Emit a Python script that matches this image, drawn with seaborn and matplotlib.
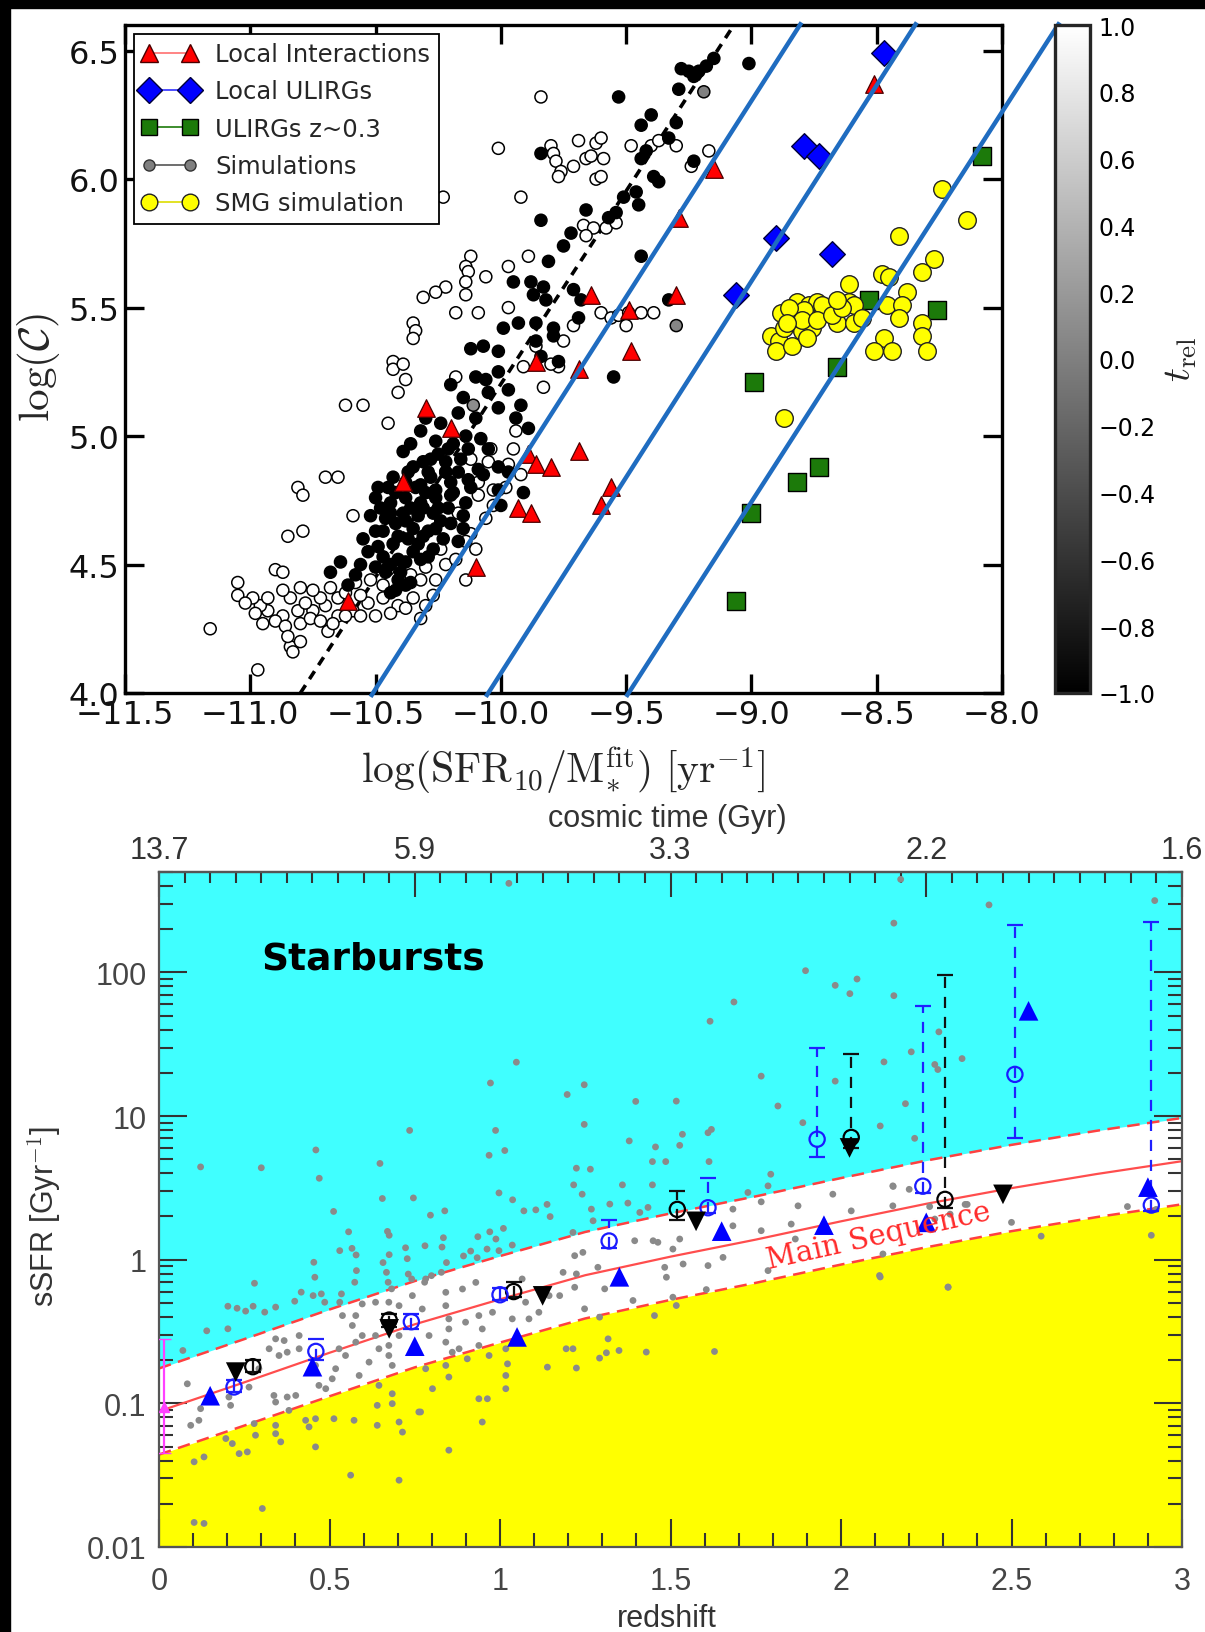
import numpy as np
import pandas as pd
import matplotlib
matplotlib.use("Agg")
import matplotlib.pyplot as plt
import matplotlib.ticker as mticker
from matplotlib.lines import Line2D
from matplotlib.patches import Rectangle
from matplotlib.cm import ScalarMappable
from matplotlib.colors import Normalize
import seaborn as sns

sns.set_theme(style="ticks")
plt.rcParams["font.family"] = ["DejaVu Sans"]
plt.rcParams["mathtext.fontset"] = "cm"
plt.rcParams["axes.unicode_minus"] = True

# ---------------- top panel data: (log sSFR, log C) ----------------
sim_open = [
    (-11.16, 4.25), (-10.97, 4.09), (-11.05, 4.43), (-10.90, 4.48), (-10.87, 4.47), (-10.81, 4.80),
    (-10.79, 4.77), (-10.70, 4.84), (-10.65, 4.84), (-10.59, 4.69), (-10.85, 4.61), (-10.79, 4.63),
    (-10.62, 5.12), (-10.55, 5.12), (-10.84, 4.18), (-10.83, 4.16), (-10.69, 4.24),
    (-10.47, 4.37), (-10.41, 4.34), (-10.35, 4.37), (-10.53, 4.35), (-10.59, 4.32), (-10.65, 4.30),
    (-10.70, 4.34), (-10.75, 4.32), (-10.81, 4.32), (-10.87, 4.30), (-10.93, 4.32), (-10.96, 4.34),
    (-10.99, 4.37), (-10.93, 4.37), (-10.84, 4.37), (-10.78, 4.35), (-10.72, 4.37), (-10.65, 4.37),
    (-10.56, 4.38), (-10.47, 4.42), (-11.05, 4.38), (-11.02, 4.35), (-10.98, 4.31), (-10.95, 4.27),
    (-10.90, 4.28), (-10.86, 4.26), (-10.80, 4.27), (-10.76, 4.29), (-10.72, 4.28), (-10.67, 4.27),
    (-10.62, 4.30), (-10.56, 4.30), (-10.50, 4.30), (-10.44, 4.31), (-10.38, 4.33), (-10.30, 4.34),
    (-10.27, 4.38), (-10.85, 4.22), (-10.80, 4.20), (-10.87, 4.40), (-10.80, 4.41), (-10.75, 4.40),
    (-10.68, 4.41), (-10.62, 4.39), (-10.58, 4.43), (-10.52, 4.44), (-10.45, 4.48), (-10.40, 4.50),
    (-10.36, 4.46), (-10.30, 4.49), (-10.22, 4.50), (-10.18, 4.52), (-10.24, 4.56), (-10.12, 4.62),
    (-10.06, 4.68), (-10.03, 4.73), (-9.98, 4.80), (-9.92, 4.85), (-9.95, 4.95), (-10.05, 4.90),
    (-10.12, 4.91), (-10.22, 4.86), (-10.04, 4.95), (-10.09, 4.82), (-10.03, 4.79), (-10.09, 4.77),
    (-9.97, 4.89), (-9.94, 5.02), (-10.14, 4.59), (-10.10, 4.56), (-10.14, 4.44), (-10.17, 4.70),
    (-10.26, 4.44), (-10.32, 4.44), (-10.32, 4.29), (-10.41, 5.17), (-10.45, 5.05),
    (-9.84, 6.32), (-10.01, 6.12), (-9.92, 5.93), (-10.23, 5.93), (-9.80, 6.13), (-9.79, 6.10),
    (-9.78, 6.07), (-9.76, 6.03), (-9.77, 6.01), (-9.71, 6.05), (-9.69, 6.15), (-9.66, 6.08),
    (-9.64, 6.09), (-9.62, 6.00), (-9.62, 6.14), (-10.12, 5.70), (-10.14, 5.66), (-10.13, 5.64),
    (-9.97, 5.66), (-9.89, 5.70), (-10.06, 5.62), (-10.22, 5.58), (-10.26, 5.56), (-10.31, 5.54),
    (-10.14, 5.60), (-10.14, 5.55), (-10.18, 5.48), (-10.09, 5.48), (-9.97, 5.50), (-10.35, 5.44),
    (-10.34, 5.41), (-10.35, 5.38), (-10.43, 5.29), (-10.43, 5.26), (-10.39, 5.28), (-10.38, 5.22),
    (-10.18, 5.23), (-9.83, 5.19), (-9.77, 5.27), (-9.75, 5.37), (-9.71, 5.43), (-9.91, 5.27),
    (-9.86, 5.35), (-9.80, 5.28), (-9.67, 5.82), (-9.63, 5.81), (-9.66, 5.78),
    (-9.48, 6.13), (-9.40, 6.13), (-9.37, 6.15), (-9.30, 6.13), (-9.17, 6.11), (-9.24, 6.05),
    (-9.60, 6.16), (-9.59, 6.08), (-9.60, 6.01), (-9.58, 5.81), (-9.54, 5.83), (-9.60, 5.48),
    (-9.56, 5.46), (-9.53, 5.47), (-9.49, 5.48), (-9.44, 5.48), (-9.39, 5.48), (-9.50, 5.43),
]
sim_filled = [
    (-9.01, 6.45), (-9.53, 6.32), (-9.28, 6.43), (-9.25, 6.42), (-9.23, 6.40), (-9.21, 6.42),
    (-9.18, 6.44), (-9.15, 6.47), (-9.29, 6.35), (-9.30, 6.22), (-9.40, 6.25), (-9.44, 6.21),
    (-9.33, 6.16), (-9.42, 6.11), (-9.44, 6.08), (-9.39, 6.01), (-9.37, 5.99), (-9.51, 5.93),
    (-9.46, 5.95), (-9.45, 5.90), (-9.54, 5.87), (-9.57, 5.85), (-9.23, 6.07), (-9.44, 5.70),
    (-9.55, 5.23), (-9.33, 5.53), (-9.84, 6.10), (-9.66, 5.88), (-9.84, 5.84), (-9.72, 5.79),
    (-9.75, 5.74), (-9.81, 5.68), (-9.88, 5.60), (-9.83, 5.58), (-9.95, 5.60), (-9.87, 5.55),
    (-9.82, 5.53), (-9.71, 5.57), (-9.68, 5.53), (-9.99, 5.42), (-9.93, 5.44), (-9.86, 5.44),
    (-9.79, 5.42), (-9.69, 5.46), (-10.12, 5.34), (-10.07, 5.35), (-10.01, 5.33), (-9.86, 5.37),
    (-9.79, 5.39), (-9.84, 5.31), (-9.77, 5.29), (-10.10, 5.23), (-10.06, 5.22), (-10.01, 5.25),
    (-10.17, 5.09), (-10.10, 5.07), (-10.01, 5.11), (-9.94, 5.07), (-9.89, 5.03), (-10.32, 5.02),
    (-10.26, 4.98), (-10.21, 4.95), (-10.14, 5.00), (-10.08, 4.99), (-10.39, 4.94), (-10.35, 4.88),
    (-10.29, 4.86), (-10.17, 4.86), (-10.09, 4.87), (-10.01, 4.88), (-9.97, 4.86), (-10.38, 4.82),
    (-10.32, 4.81), (-10.26, 4.79), (-10.20, 4.82), (-10.01, 4.79), (-9.91, 4.78), (-10.50, 4.76),
    (-10.44, 4.74), (-10.38, 4.76), (-10.32, 4.74), (-10.26, 4.76), (-10.20, 4.77), (-10.14, 4.74),
    (-10.52, 4.69), (-10.46, 4.68), (-10.39, 4.70), (-10.33, 4.69), (-10.27, 4.70), (-10.21, 4.72),
    (-10.15, 4.69), (-10.00, 4.73), (-10.47, 4.63), (-10.41, 4.61), (-10.35, 4.64), (-10.29, 4.63),
    (-10.23, 4.60), (-10.17, 4.59), (-10.64, 4.51), (-10.53, 4.55), (-10.47, 4.53), (-10.41, 4.52),
    (-10.35, 4.55), (-10.29, 4.53), (-10.46, 4.47), (-10.41, 4.44), (-10.38, 4.42), (-10.44, 4.39),
    (-10.61, 4.42), (-10.36, 4.72), (-10.30, 4.78), (-10.42, 4.66), (-10.24, 4.67), (-10.33, 4.58),
    (-10.28, 4.91), (-10.22, 4.90), (-10.45, 4.80), (-10.12, 4.80), (-10.05, 4.95),
    (-10.49, 4.80), (-10.43, 4.84), (-10.37, 4.86), (-10.31, 4.90), (-10.25, 4.93), (-10.19, 4.97),
    (-10.13, 4.95), (-10.48, 4.72), (-10.42, 4.78), (-10.34, 4.80), (-10.28, 4.84), (-10.22, 4.86),
    (-10.16, 4.91), (-10.50, 4.63), (-10.44, 4.70), (-10.38, 4.67), (-10.31, 4.72), (-10.25, 4.72),
    (-10.19, 4.78), (-10.13, 4.83), (-10.07, 4.85), (-10.55, 4.60), (-10.49, 4.57), (-10.43, 4.58),
    (-10.37, 4.60), (-10.31, 4.61), (-10.26, 4.64), (-10.20, 4.66), (-10.15, 4.64), (-10.56, 4.50),
    (-10.50, 4.49), (-10.44, 4.50), (-10.38, 4.51), (-10.32, 4.52), (-10.27, 4.56), (-10.42, 4.40),
    (-10.36, 4.43), (-10.40, 4.47), (-10.58, 4.46), (-10.68, 4.47), (-10.30, 5.07), (-10.24, 5.05),
    (-10.36, 4.97), (-10.05, 5.17), (-9.97, 5.18), (-10.15, 5.15), (-9.92, 5.12), (-10.20, 5.20),
]
sim_mid = [(-9.19, 6.34), (-9.30, 5.43), (-10.11, 5.12)]
sim_mid_trel = [0.0, 0.05, 0.1]

local_inter = [
    (-8.51, 6.37), (-9.15, 6.04), (-9.29, 5.85), (-9.30, 5.55), (-9.64, 5.55), (-9.49, 5.49),
    (-9.48, 5.33), (-9.86, 5.29), (-9.69, 5.26), (-10.30, 5.11), (-10.20, 5.03), (-10.39, 4.82),
    (-9.89, 4.93), (-9.86, 4.89), (-9.80, 4.88), (-9.69, 4.94), (-9.56, 4.80), (-9.60, 4.73),
    (-9.93, 4.72), (-9.88, 4.70), (-10.10, 4.49), (-10.61, 4.36),
]
local_ulirg = [(-8.47, 6.49), (-8.79, 6.13), (-8.73, 6.09), (-8.90, 5.77), (-8.68, 5.71), (-9.06, 5.55)]
ulirg_z03 = [(-8.08, 6.09), (-8.53, 5.53), (-8.26, 5.49), (-8.66, 5.27), (-8.99, 5.21),
             (-8.73, 4.88), (-8.82, 4.82), (-9.00, 4.70), (-9.06, 4.36)]
smg_sim = [
    (-8.24, 5.96), (-8.14, 5.84), (-8.41, 5.78), (-8.27, 5.69), (-8.32, 5.64), (-8.48, 5.63),
    (-8.45, 5.62), (-8.38, 5.56), (-8.61, 5.59), (-8.61, 5.52), (-8.59, 5.51), (-8.46, 5.51),
    (-8.40, 5.51), (-8.41, 5.46), (-8.32, 5.44), (-8.32, 5.39), (-8.30, 5.33), (-8.47, 5.38),
    (-8.51, 5.33), (-8.44, 5.33), (-8.66, 5.44), (-8.59, 5.44), (-8.56, 5.46), (-8.88, 5.48),
    (-8.82, 5.52), (-8.77, 5.51), (-8.74, 5.52), (-8.71, 5.49), (-8.92, 5.39), (-8.89, 5.37),
    (-8.90, 5.33), (-8.84, 5.35), (-8.80, 5.41), (-8.77, 5.46), (-8.76, 5.42), (-8.83, 5.46),
    (-8.87, 5.42), (-8.79, 5.49), (-8.72, 5.51), (-8.85, 5.50), (-8.80, 5.45), (-8.86, 5.44),
    (-8.78, 5.38), (-8.74, 5.45), (-8.68, 5.47), (-8.64, 5.50), (-8.66, 5.53), (-8.87, 5.07),
]
dash_x = [-10.80, -9.07]
dash_y = [4.0, 6.6]
blue_line_x = [(-10.52, -8.80), (-10.06, -8.34), (-9.50, -7.77)]
blue_line_y = [3.985, 6.61]

legend_labels = ["Local Interactions", "Local ULIRGs", "ULIRGs z~0.3", "Simulations", "SMG simulation"]

# ---------------- bottom panel data ----------------
ms_z = [0.0, 0.25, 0.5, 0.75, 1.0, 1.25, 1.5, 1.75, 2.0, 2.25, 2.5, 2.75, 3.0]
ms_ssfr = [0.088, 0.14, 0.225, 0.355, 0.53, 0.78, 1.05, 1.38, 1.85, 2.45, 3.15, 3.95, 4.85]
ms_upper = [0.175, 0.28, 0.45, 0.71, 1.06, 1.56, 2.1, 2.76, 3.7, 4.9, 6.3, 7.9, 9.7]
ms_lower = [0.044, 0.07, 0.112, 0.178, 0.265, 0.39, 0.525, 0.69, 0.925, 1.22, 1.58, 1.98, 2.43]

bt_z = [0.15, 0.45, 0.75, 1.05, 1.35, 1.65, 1.95, 2.25, 2.55, 2.90]
bt_ssfr = [0.113, 0.18, 0.25, 0.29, 0.76, 1.58, 1.74, 1.82, 54.0, 3.2]
dt_z = [0.225, 0.675, 1.125, 1.575, 2.025, 2.475]
dt_ssfr = [0.165, 0.33, 0.56, 1.85, 6.0, 2.85]
bo_z = [0.275, 0.675, 1.04, 1.52, 2.03, 2.305]
bo_ssfr = [0.18, 0.38, 0.60, 2.24, 7.1, 2.63]
bo_lo = [0.165, 0.34, 0.55, 1.9, 6.0, 2.3]
bo_hi = [0.20, 0.42, 0.70, 3.0, 27.0, 96.0]
bc_z = [0.22, 0.46, 0.74, 1.00, 1.32, 1.61, 1.93, 2.24, 2.51, 2.91]
bc_ssfr = [0.13, 0.23, 0.37, 0.57, 1.35, 2.3, 6.9, 3.25, 19.5, 2.4]
bc_lo = [0.12, 0.20, 0.33, 0.52, 1.2, 2.1, 5.2, 2.9, 7.0, 2.2]
bc_hi = [0.145, 0.28, 0.42, 0.64, 1.9, 3.7, 30.0, 58.0, 215.0, 225.0]
local_z = [0.015]
local_ssfr = [0.095]
local_lo = [0.045]
local_hi = [0.28]

# gray galaxies: (redshift, log10 sSFR)
gray_a = [
    (0.122, 0.646), (0.300, 0.640), (0.460, 0.764), (0.470, 0.567), (0.512, 0.336), (0.556, 0.194),
    (0.530, 0.063), (0.566, 0.079), (0.578, 0.033), (0.454, -0.018), (0.648, 0.670), (0.655, 0.426),
    (0.735, 0.900), (0.746, 0.430), (0.670, 0.197), (0.675, 0.170), (0.675, 0.035), (0.657, -0.020),
    (0.723, 0.083), (0.728, 0.007), (0.780, 0.097), (0.796, 0.310), (0.838, 0.340), (0.830, 0.088),
    (0.834, 0.153), (0.972, 1.230), (1.048, 1.375), (0.987, 0.900), (0.968, 0.727), (1.014, 0.760),
    (0.997, 0.465), (1.037, 0.417), (1.070, 0.340), (1.105, 0.347), (1.138, 0.385), (1.147, 0.300),
    (0.935, 0.160), (0.970, 0.194), (0.988, 0.144), (1.010, 0.218), (0.893, 0.026), (0.914, 0.060),
    (0.933, 0.014), (0.962, 0.074), (0.997, 0.063), (1.036, 0.102), (0.843, -0.020), (1.026, 2.62),
]
gray_b = [
    (0.280, -0.164), (0.457, -0.122), (0.417, -0.226), (0.452, -0.250), (0.476, -0.238), (0.486, -0.296),
    (0.398, -0.289), (0.535, -0.238), (0.530, -0.296), (0.202, -0.324), (0.229, -0.338), (0.254, -0.358),
    (0.276, -0.324), (0.310, -0.365), (0.342, -0.330), (0.140, -0.495), (0.202, -0.481), (0.070, -0.632),
    (0.579, -0.076), (0.574, -0.157), (0.667, -0.088), (0.672, -0.157), (0.682, -0.203), (0.731, -0.100),
    (0.741, -0.134), (0.779, -0.157), (0.799, -0.111), (0.828, -0.088),
]
gray_c = [
    (0.083, -0.864), (0.093, -1.153), (0.117, -1.118), (0.122, -1.037), (0.205, -0.956), (0.210, -1.014),
    (0.264, -0.887), (0.279, -1.141), (0.283, -1.222), (0.196, -1.245), (0.215, -1.280), (0.235, -1.350),
    (0.259, -1.338), (0.293, -0.759), (0.323, -0.620), (0.342, -0.551), (0.367, -0.563), (0.352, -0.667),
    (0.376, -0.644), (0.337, -0.945), (0.342, -0.991), (0.376, -0.956), (0.401, -0.945), (0.381, -1.049),
    (0.342, -1.153), (0.342, -1.211), (0.357, -1.268), (0.411, -0.528), (0.411, -0.620), (0.459, -0.736),
    (0.469, -0.875), (0.489, -0.898), (0.508, -0.829), (0.518, -0.759), (0.547, -0.667), (0.528, -0.620),
    (0.577, -0.574), (0.587, -0.806), (0.616, -0.713), (0.645, -0.620), (0.635, -0.528), (0.596, -0.528),
    (0.567, -0.458), (0.538, -0.389), (0.577, -0.389), (0.596, -0.308), (0.635, -0.296), (0.674, -0.296),
    (0.674, -0.597), (0.674, -0.667), (0.684, -0.736), (0.704, -0.528), (0.704, -0.320), (0.743, -0.250),
    (0.772, -0.343), (0.792, -0.528), (0.782, -0.759), (0.802, -0.898), (0.762, -1.060), (0.841, -0.227),
    (0.841, -0.320), (0.850, -0.412), (0.850, -0.482), (0.841, -0.574), (0.860, -0.644), (0.841, -0.736),
    (0.880, -0.620), (0.899, -0.435), (0.938, -0.389), (0.948, -0.482), (0.938, -0.597), (0.968, -0.667),
    (1.017, -0.620), (0.978, -0.366), (1.036, -0.412), (1.075, -0.296), (1.085, -0.412), (1.114, -0.366),
    (1.144, -0.250), (0.890, -0.204), (0.929, -0.158), (0.782, -0.134), (1.065, -0.134),
]
gray_d = [
    (0.103, -1.407), (0.132, -1.373), (0.303, -1.732), (0.103, -1.829), (0.132, -1.836), (0.430, -1.118),
    (0.459, -1.107), (0.440, -1.164), (0.459, -1.303), (0.513, -1.107), (0.572, -1.118), (0.562, -1.500),
    (0.640, -1.014), (0.640, -1.153), (0.684, -1.002), (0.684, -0.933), (0.704, -1.130), (0.714, -1.200),
    (0.704, -1.535), (0.645, -0.875), (0.767, -1.060), (0.850, -0.817), (0.850, -1.326), (0.904, -0.690),
    (0.938, -0.968), (0.963, -0.968), (0.948, -1.130), (1.022, -0.725), (1.017, -0.806), (1.017, -0.898),
    (1.139, -0.748),
]
gray_e = [
    (1.268, 0.352), (1.273, 0.271), (1.322, 0.387), (1.375, 0.394), (1.410, 0.329), (1.434, 0.364),
    (1.214, 0.190), (1.219, 0.028), (1.243, 0.051), (1.185, -0.088), (1.224, -0.099), (1.287, -0.053),
    (1.219, -0.192), (1.307, -0.203), (1.175, -0.250), (1.248, -0.342), (1.292, -0.400), (1.390, -0.284),
    (1.395, 0.132), (1.449, 0.132), (1.463, 0.121), (1.483, -0.053), (1.488, -0.122), (1.507, 0.074),
    (1.507, -0.261), (1.527, 0.144), (1.537, -0.030), (1.517, -0.319), (1.453, -0.389), (1.610, -0.041),
    (1.654, 0.016), (1.683, 0.352), (1.683, 0.236), (1.766, 0.202), (1.766, 0.403), (1.786, -0.076),
    (1.854, 0.248), (1.866, 0.144), (1.874, 0.375), (2.030, 0.340), (2.152, 0.375), (2.123, 0.040),
    (2.113, -0.110), (2.314, -0.192), (2.275, 0.283), (1.194, -0.620), (1.214, -0.620), (1.224, -0.754),
    (1.292, -0.685), (1.312, -0.648), (1.349, -0.632), (1.317, -0.551), (1.429, -0.643), (1.629, -0.639),
    (1.605, -0.208),
]
gray_f = [
    (2.175, 2.648), (2.155, 2.343), (1.896, 2.012), (1.983, 1.910), (2.047, 1.954), (2.026, 1.852),
    (2.155, 1.838), (1.686, 1.794), (1.616, 1.660), (2.287, 1.586), (2.206, 1.447), (2.126, 1.377),
    (2.275, 1.359), (2.284, 1.324), (1.766, 1.278), (1.983, 1.243), (1.247, 1.218), (1.197, 1.150),
    (1.398, 1.102), (1.517, 1.104), (1.815, 1.070), (2.189, 1.086), (1.247, 0.942), (1.888, 0.954),
    (2.115, 0.931), (1.535, 0.873), (1.610, 0.884), (1.620, 0.907), (1.379, 0.827), (1.456, 0.785),
    (1.527, 0.796), (2.216, 0.845), (1.447, 0.683), (1.486, 0.683), (1.613, 0.683), (1.224, 0.637),
    (1.265, 0.630), (1.794, 0.595), (1.216, 0.521), (1.359, 0.521), (1.447, 0.521), (1.786, 0.514),
    (1.727, 0.468), (2.152, 0.514), (1.976, 0.456), (1.241, 0.456),
    (2.434, 2.470), (2.920, 2.500), (2.355, 1.400), (2.500, 0.260), (2.840, 0.370), (2.370, 0.385),
    (2.587, 0.164), (2.910, 0.170), (2.314, -0.190), (2.115, -0.120), (2.153, 0.510), (2.200, 0.490),
    (2.260, 0.370), (2.320, 0.317), (2.364, 0.385), (2.924, 0.350),
]

# ---------------- figure ----------------
W, H = 1205, 1633
fig = plt.figure(figsize=(W / 100, H / 100), dpi=100)
fig.patch.set_facecolor("white")
fig.patches.append(Rectangle((0, 1 - 9 / H), 1, 9 / H, transform=fig.transFigure, color="black", zorder=0))
fig.patches.append(Rectangle((0, 0), 10 / W, 1, transform=fig.transFigure, color="black", zorder=0))

def fmt_minus(v, p):
    s = f"{v:.1f}"
    if s == "-0.0":
        s = "0.0"
    return s.replace("-", "\u2212")

# ---------- top panel ----------
ax1 = fig.add_axes([125 / W, 1 - 694 / H, 877 / W, 668 / H])
sim = pd.DataFrame(
    [(x, y, 1.0) for x, y in sim_open] + [(x, y, -1.0) for x, y in sim_filled]
    + [(x, y, t) for (x, y), t in zip(sim_mid, sim_mid_trel)],
    columns=["x", "y", "trel"],
)
sns.lineplot(x=dash_x, y=dash_y, ax=ax1, color="black", lw=2.6, linestyle=(0, (2.6, 2.0)), zorder=2)
sns.scatterplot(data=sim, x="x", y="y", hue="trel", palette="gray", hue_norm=(-1, 1), s=75,
                edgecolor="black", linewidth=1.1, legend=False, ax=ax1, zorder=3)
li = pd.DataFrame(local_inter, columns=["x", "y"])
lu = pd.DataFrame(local_ulirg, columns=["x", "y"])
uz = pd.DataFrame(ulirg_z03, columns=["x", "y"])
sm = pd.DataFrame(smg_sim, columns=["x", "y"])
sns.scatterplot(data=uz, x="x", y="y", marker="s", s=150, color="#1c7a0a", edgecolor="black", linewidth=1.0, ax=ax1, zorder=4)
sns.scatterplot(data=sm, x="x", y="y", marker="o", s=160, color="#ffff00", edgecolor="#222222", linewidth=1.0, ax=ax1, zorder=4)
sns.scatterplot(data=lu, x="x", y="y", marker="D", s=170, color="#0000ff", edgecolor="#00003a", linewidth=1.0, ax=ax1, zorder=5)
sns.scatterplot(data=li, x="x", y="y", marker="^", s=160, color="#ff0000", edgecolor="#4a0000", linewidth=0.9, ax=ax1, zorder=5)
for xs in blue_line_x:
    ax1.plot(list(xs), blue_line_y, color="#1f6cc0", lw=3.2, clip_on=False, zorder=10, solid_capstyle="butt")

ax1.set_xlim(-11.5, -8.0)
ax1.set_ylim(4.0, 6.6)
ax1.set_xticks(np.arange(-11.5, -7.99, 0.5))
ax1.set_yticks(np.arange(4.0, 6.51, 0.5))
ax1.xaxis.set_major_formatter(mticker.FuncFormatter(fmt_minus))
ax1.yaxis.set_major_formatter(mticker.FuncFormatter(fmt_minus))
ax1.tick_params(direction="in", length=14, width=2.4, top=True, right=True, labelsize=23,
                colors="black", labelcolor="#111111")
ax1.tick_params(axis="x", pad=4)
ax1.tick_params(axis="y", pad=4)
for sp in ax1.spines.values():
    sp.set_linewidth(2.4)
    sp.set_color("black")
ax1.set_xlabel("")
ax1.set_ylabel("")

handles = [
    Line2D([0], [0], color="#ff7070", lw=1.2, marker="^", ms=13, mfc="#ff0000", mec="#4a0000"),
    Line2D([0], [0], color="#3030ff", lw=1.2, marker="D", ms=13, mfc="#0000ff", mec="#00003a"),
    Line2D([0], [0], color="#1c7a0a", lw=1.2, marker="s", ms=12, mfc="#1c7a0a", mec="black"),
    Line2D([0], [0], color="#555555", lw=1.2, marker="o", ms=8, mfc="#808080", mec="#333333"),
    Line2D([0], [0], color="#dddd00", lw=1.2, marker="o", ms=12, mfc="#ffff00", mec="#222222"),
]
leg = ax1.legend(handles, legend_labels, loc="upper left", numpoints=2, fontsize=17.5, frameon=True,
                 fancybox=False, edgecolor="black", framealpha=1, borderaxespad=0.35, borderpad=0.35,
                 handlelength=2.26, handletextpad=0.75, labelspacing=0.55)
leg.get_frame().set_linewidth(1.3)
leg.set_zorder(8)

fig.text(563 / W, 1 - 770 / H, r"$\log(\mathrm{SFR}_{10}/\mathrm{M}_{*}^{\mathrm{fit}})\ [\mathrm{yr}^{-1}]$",
         ha="center", va="center", fontsize=30)
fig.text(38 / W, 1 - 368 / H, r"$\log(\mathcal{C})$", ha="center", va="center", rotation=90, fontsize=31)

cax = fig.add_axes([1055 / W, 1 - 694 / H, 35 / W, 668 / H])
cb = fig.colorbar(ScalarMappable(norm=Normalize(-1, 1), cmap="gray"), cax=cax)
cb.set_ticks(np.arange(-1.0, 1.01, 0.2))
cb.ax.yaxis.set_major_formatter(mticker.FuncFormatter(fmt_minus))
cb.ax.tick_params(direction="in", length=7, width=2, labelsize=17, pad=6, colors="black")
cb.outline.set_linewidth(2.4)
fig.text(1180 / W, 1 - 359 / H, r"$t_{\mathrm{rel}}$", ha="center", va="center", rotation=90, fontsize=28)

# ---------- bottom panel ----------
sans = ["Liberation Sans", "DejaVu Sans"]
gcol = "#454545"
ax2 = fig.add_axes([159 / W, 1 - 1548 / H, 1023 / W, 675 / H])
ax2.set_yscale("log")
ax2.set_xlim(0, 3)
ax2.set_ylim(0.01, 500)
ax2.fill_between(ms_z, ms_upper, [1e4] * len(ms_z), color="#40ffff", lw=0, zorder=0)
ax2.fill_between(ms_z, [1e-4] * len(ms_z), ms_lower, color="#ffff00", lw=0, zorder=0)
sns.lineplot(x=ms_z, y=ms_ssfr, ax=ax2, color="#ff4d4d", lw=1.6, zorder=2)
sns.lineplot(x=ms_z, y=ms_upper, ax=ax2, color="#ff4040", lw=1.8, linestyle=(0, (5, 3)), zorder=2)
sns.lineplot(x=ms_z, y=ms_lower, ax=ax2, color="#ff4040", lw=1.8, linestyle=(0, (5, 3)), zorder=2)

gray_all = pd.DataFrame(gray_a + gray_b + gray_c + gray_d + gray_e + gray_f, columns=["z", "logs"])
gray_all["ssfr"] = 10 ** gray_all["logs"]
sns.scatterplot(data=gray_all, x="z", y="ssfr", color="#8a8a8a", s=24, edgecolor="none", ax=ax2, zorder=3)

eb = ax2.errorbar(local_z, local_ssfr,
                  yerr=[np.subtract(local_ssfr, local_lo), np.subtract(local_hi, local_ssfr)],
                  fmt="^", color="#ff40ff", ms=7, capsize=5, elinewidth=1.6, zorder=4)

eb1 = ax2.errorbar(bc_z, bc_ssfr, yerr=[np.subtract(bc_ssfr, bc_lo), np.subtract(bc_hi, bc_ssfr)],
                   fmt="none", ecolor="#2020ff", elinewidth=1.6, capsize=6, capthick=1.6, zorder=5)
eb1[2][0].set_linestyle((0, (5, 4)))
eb2 = ax2.errorbar(bo_z, bo_ssfr, yerr=[np.subtract(bo_ssfr, bo_lo), np.subtract(bo_hi, bo_ssfr)],
                   fmt="none", ecolor="#111111", elinewidth=1.6, capsize=6, capthick=1.6, zorder=5)
eb2[2][0].set_linestyle((0, (5, 4)))

ax2.scatter(bo_z, bo_ssfr, s=120, facecolors="none", edgecolors="black", linewidths=1.6, zorder=6)
ax2.scatter(bc_z, bc_ssfr, s=120, facecolors="none", edgecolors="#1a1aff", linewidths=1.6, zorder=6)
sns.scatterplot(x=dt_z, y=dt_ssfr, marker="v", s=200, color="black", edgecolor="none", ax=ax2, zorder=7)
sns.scatterplot(x=bt_z, y=bt_ssfr, marker="^", s=200, color="#0000ff", edgecolor="none", ax=ax2, zorder=7)

ax2.text(0.30, 124, "Starbursts", fontsize=27, fontweight="bold", ha="left", va="center",
         family=["DejaVu Sans"], color="black", zorder=8)
ax2.text(2.11, 1.47, "Main Sequence", fontsize=21, family=["DejaVu Serif"], color="#ff2a2a",
         rotation=12.5, ha="center", va="center", rotation_mode="anchor", zorder=8)

ax2.set_xticks([0, 0.5, 1, 1.5, 2, 2.5, 3])
ax2.set_xticklabels(["0", "0.5", "1", "1.5", "2", "2.5", "3"])
ax2.xaxis.set_minor_locator(mticker.MultipleLocator(0.1))
ax2.set_yticks([0.01, 0.1, 1, 10, 100])
ax2.set_yticklabels(["0.01", "0.1", "1", "10", "100"])
ax2.yaxis.set_minor_locator(mticker.LogLocator(base=10, subs=np.arange(2, 10)))
ax2.yaxis.set_minor_formatter(mticker.NullFormatter())
ax2.tick_params(which="both", direction="in", bottom=True, top=False, left=True, right=True, colors="#333333")
ax2.tick_params(which="major", length=20, width=1.5)
ax2.tick_params(which="minor", length=10, width=1.5)
ax2.tick_params(axis="x", labelsize=22, labelcolor=gcol, pad=14)
ax2.tick_params(axis="y", labelsize=22, labelcolor=gcol, pad=9)
for lab in ax2.get_xticklabels() + ax2.get_yticklabels():
    lab.set_family(sans)
for sp in ax2.spines.values():
    sp.set_linewidth(1.6)
    sp.set_color("#555555")
ax2.set_xlabel("")
ax2.set_ylabel("")

sec = ax2.secondary_xaxis("top")
sec.set_xticks([0, 0.75, 1.5, 2.25, 3.0])
sec.set_xticklabels(["13.7", "5.9", "3.3", "2.2", "1.6"])
sec.xaxis.set_minor_locator(mticker.MultipleLocator(0.075))
sec.tick_params(which="both", direction="in", colors="#333333")
sec.tick_params(which="major", length=18, width=1.5, labelsize=22, labelcolor="#333333", pad=5)
sec.tick_params(which="minor", length=8, width=1.5)
for lab in sec.get_xticklabels():
    lab.set_family(sans)
sec.spines["top"].set_linewidth(1.6)
sec.spines["top"].set_color("#555555")

fig.text(667 / W, 1 - 819 / H, "cosmic time (Gyr)", ha="center", va="center", fontsize=22,
         family=sans, color="#333333")
fig.text(667 / W, 1 - 1619 / H, "redshift", ha="center", va="center", fontsize=22, family=sans, color="#333333")
fig.text(44 / W, 1 - 1216 / H, r"sSFR [Gyr$^{-1}$]", ha="center", va="center", rotation=90, fontsize=22,
         family=sans, color="#333333")

fig.savefig("out.png", dpi=100, facecolor="white")
